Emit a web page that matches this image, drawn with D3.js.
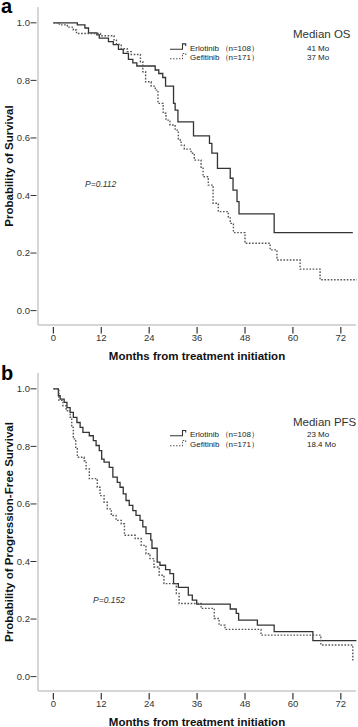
<!DOCTYPE html>
<html>
<head>
<meta charset="utf-8">
<script src="https://cdn.jsdelivr.net/npm/d3@7"></script>
<style>
    body { margin: 0; background: #fff; }
    svg { display: block; font-family: "Liberation Sans", Arial, sans-serif; }
    .tick-label { font-size: 9.5px; fill: #333; }
    .axis-title { font-size: 11.5px; font-weight: bold; fill: #111; }
    .legend-text { font-size: 8px; fill: #222; }
</style>
</head>
<body>
<svg id="chart"></svg>
<script>
// Kaplan-Meier steps: [month, survival probability]
const erlotinibOS = [[0, 1], [6, 0.993], [7.9, 0.982], [8.8, 0.965], [10.9, 0.958], [11.5, 0.947], [13.8, 0.935],
    [15, 0.924], [16.3, 0.908], [17.5, 0.894], [18.8, 0.873], [19.9, 0.861], [20.9, 0.85], [25.5, 0.836],
    [26.4, 0.824], [27.4, 0.81], [28.1, 0.78], [30.1, 0.72], [30.5, 0.697], [31.2, 0.656], [35.1, 0.607],
    [39.1, 0.581], [39.7, 0.547], [41.1, 0.494], [44.3, 0.46], [45, 0.419], [46, 0.379], [46.5, 0.336],
    [55.3, 0.271], [75, 0.271]];

const gefitinibOS = [[0, 1], [1.5, 0.993], [3.5, 0.985], [5, 0.975], [5.8, 0.963], [11.8, 0.955], [15.2, 0.94],
    [15.8, 0.925], [17, 0.91], [18.5, 0.9], [19.5, 0.89], [21.8, 0.865], [22.4, 0.83], [23.1, 0.795], [24.5, 0.78],
    [25.5, 0.766], [26.2, 0.72], [27.5, 0.686], [28.2, 0.662], [29.2, 0.645], [30.5, 0.627], [31.3, 0.593],
    [32, 0.575], [32.8, 0.561], [34.5, 0.547], [35.3, 0.523], [37, 0.495], [37.5, 0.465], [38.8, 0.436],
    [40, 0.373], [41.3, 0.344], [43.8, 0.326], [44.3, 0.303], [45.1, 0.271], [48, 0.234], [54.3, 0.211],
    [56, 0.176], [61.8, 0.144], [66.8, 0.107], [76, 0.107]];

const erlotinibPFS = [[0, 1], [1.25, 0.976], [1.7, 0.964], [2.7, 0.953], [3.4, 0.935], [4.2, 0.918], [5, 0.901],
    [5.9, 0.883], [6.7, 0.866], [7.4, 0.849], [9, 0.837], [10, 0.82], [10.7, 0.803], [11.5, 0.785], [12.1, 0.756],
    [12.7, 0.745], [14, 0.727], [14.9, 0.693], [16, 0.675], [16.7, 0.658], [17.5, 0.635], [18.2, 0.612],
    [19, 0.595], [19.9, 0.577], [20.7, 0.56], [21.7, 0.543], [22.4, 0.52], [23.2, 0.497], [24.4, 0.474],
    [24.7, 0.446], [26, 0.398], [26.7, 0.387], [28.1, 0.372], [29.2, 0.358], [30.1, 0.323], [31.3, 0.31],
    [33.8, 0.283], [34.8, 0.266], [35.9, 0.252], [44.3, 0.235], [45.8, 0.22], [46.4, 0.196], [51.1, 0.179],
    [55.3, 0.156], [65, 0.125], [75.9, 0.125]];

const gefitinibPFS = [[0, 1], [1.4, 0.96], [2.4, 0.941], [3.2, 0.924], [4.2, 0.901], [4.6, 0.866], [5, 0.826],
    [5.6, 0.797], [6, 0.762], [7.7, 0.75], [8.2, 0.722], [9, 0.688], [11, 0.658], [11.7, 0.629], [12.7, 0.606],
    [13.5, 0.583], [14.5, 0.56], [15.7, 0.543], [17, 0.531], [17.8, 0.491], [20.5, 0.48], [22, 0.456],
    [23.2, 0.427], [24.2, 0.41], [25.2, 0.381], [26.5, 0.352], [27.7, 0.323], [30.8, 0.289], [31.5, 0.254],
    [37, 0.237], [40.3, 0.202], [41.5, 0.179], [43, 0.164], [52, 0.144], [67, 0.11], [75, 0.052]];

const monthTicks = [0, 12, 24, 36, 48, 60, 72];
const probTicks = [0, 0.2, 0.4, 0.6, 0.8, 1.0];

const groupNames = ['Erlotinib', 'Gefitinib'];
const groupSizes = ['（n=108）', '（n=171）'];

const panels = [
    { letter: 'a', yTitle: 'Probability of Survival', medianTitle: 'Median OS', medians: ['41 Mo', '37 Mo'],
      pValue: 'P=0.112', series: [erlotinibOS, gefitinibOS] },
    { letter: 'b', yTitle: 'Probability of Progression-Free Survival', medianTitle: 'Median PFS', medians: ['23 Mo', '18.4 Mo'],
      pValue: 'P=0.152', series: [erlotinibPFS, gefitinibPFS] }
];

const width = 358, height = 727;
const panelOffset = 366;

const svg = d3.select('#chart')
    .attr('width', width)
    .attr('height', height);

// shared scales, the panel group is shifted down for b
const x = d3.scaleLinear().domain([-3.85, 75.8]).range([38, 356]);
const y = d3.scaleLinear().domain([-0.05, 1.055]).range([325, 7]);

// legend / label placement per panel (panel b sits a bit lower)
const legendY = [[47.7, 57.3], [68.3, 78.3]];
const medianTitleY = [38, 60];
const pValueY = [187, 237];
const pValueX = [85, 93];

const line = d3.line()
    .x(d => x(d[0]))
    .y(d => y(d[1]))
    .curve(d3.curveStepAfter);

panels.forEach((p, i) => {
    const g = svg.append('g')
        .attr('transform', `translate(0,${i * panelOffset})`);

    // panel letter
    g.append('text')
        .attr('x', 1)
        .attr('y', i === 0 ? 13 : 14)
        .attr('font-size', 20)
        .attr('font-weight', 'bold')
        .text(p.letter);

    // axis lines (light gray, as SPSS draws them)
    g.append('line')
        .attr('x1', x(-3.85)).attr('x2', x(-3.85))
        .attr('y1', y(1.055)).attr('y2', y(-0.05))
        .attr('stroke', '#c8c8c8').attr('stroke-width', 1.5);
    g.append('line')
        .attr('x1', x(-3.85)).attr('x2', x(75.8))
        .attr('y1', y(-0.05)).attr('y2', y(-0.05))
        .attr('stroke', '#c8c8c8').attr('stroke-width', 1.5);

    // y ticks
    const yt = g.selectAll('.ytick')
        .data(probTicks)
        .join('g')
        .attr('class', 'ytick')
        .attr('transform', d => `translate(0,${y(d)})`);
    yt.append('line')
        .attr('x1', 30.5).attr('x2', 36.5)
        .attr('stroke', '#333').attr('stroke-width', 1);
    yt.append('text')
        .attr('class', 'tick-label')
        .attr('x', 30)
        .attr('dy', '0.35em')
        .attr('text-anchor', 'end')
        .text(d => d.toFixed(1));

    // x ticks
    const xt = g.selectAll('.xtick')
        .data(monthTicks)
        .join('g')
        .attr('class', 'xtick')
        .attr('transform', d => `translate(${x(d)},0)`);
    xt.append('line')
        .attr('y1', 327).attr('y2', 333.5)
        .attr('stroke', '#333').attr('stroke-width', 1.2);
    xt.append('text')
        .attr('class', 'tick-label')
        .attr('y', 340.5)
        .attr('text-anchor', 'middle')
        .text(d => d);

    // axis titles
    g.append('text')
        .attr('class', 'axis-title')
        .attr('text-anchor', 'middle')
        .attr('transform', `translate(12.5,166) rotate(-90)`)
        .text(p.yTitle);
    g.append('text')
        .attr('class', 'axis-title')
        .attr('text-anchor', 'middle')
        .attr('x', 197)
        .attr('y', 359.5)
        .text('Months from treatment initiation');

    // curves
    g.selectAll('.km')
        .data(p.series)
        .join('path')
        .attr('class', 'km')
        .attr('d', line)
        .attr('fill', 'none')
        .attr('stroke', (d, k) => k === 0 ? '#333' : '#555')
        .attr('stroke-width', (d, k) => k === 0 ? 1.3 : 1.4)
        .attr('stroke-dasharray', (d, k) => k === 0 ? null : '1.6,1.6');

    // legend
    const lg = g.selectAll('.legend')
        .data(groupNames)
        .join('g')
        .attr('class', 'legend')
        .attr('transform', (d, k) => `translate(170,${legendY[i][k]})`);
    lg.append('path')
        .attr('d', 'M0,1.5H12.5V-3.8H15.7V-1.8')
        .attr('fill', 'none')
        .attr('stroke', (d, k) => k === 0 ? '#333' : '#555')
        .attr('stroke-width', 1.1)
        .attr('stroke-dasharray', (d, k) => k === 0 ? null : '1.5,1.5');
    lg.append('text')
        .attr('class', 'legend-text')
        .attr('x', 20)
        .attr('dy', '0.35em')
        .text(d => d);
    lg.append('text')
        .attr('class', 'legend-text')
        .attr('x', 50.5)
        .attr('dy', '0.35em')
        .text((d, k) => groupSizes[k]);

    // medians
    g.append('text')
        .attr('x', 293)
        .attr('y', medianTitleY[i])
        .attr('font-size', 11.5)
        .attr('fill', '#333')
        .text(p.medianTitle);
    g.selectAll('.median')
        .data(p.medians)
        .join('text')
        .attr('class', 'median legend-text')
        .attr('x', 307)
        .attr('y', (d, k) => legendY[i][k])
        .attr('dy', '0.35em')
        .text(d => d);

    // log-rank p
    g.append('text')
        .attr('x', pValueX[i])
        .attr('y', pValueY[i])
        .attr('font-size', 8.5)
        .attr('font-style', 'italic')
        .attr('fill', '#333')
        .text(p.pValue);
});
</script>
</body>
</html>
